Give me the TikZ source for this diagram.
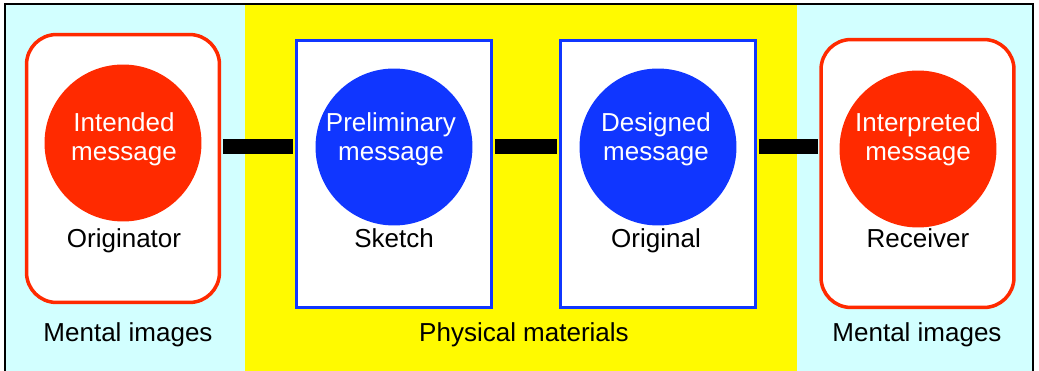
\documentclass[tikz,border=0pt]{standalone}
\usepackage{fontspec}
\setmainfont{Liberation Sans}
\usetikzlibrary{positioning}
\definecolor{mindred}{RGB}{255,42,0}
\definecolor{paperblue}{RGB}{16,54,255}
\definecolor{mindcyan}{RGB}{210,255,255}
\definecolor{paperyellow}{RGB}{255,250,0}

\begin{document}
\begin{tikzpicture}[x=0.02cm,y=-0.02cm,font=\fontsize{14.8}{16.4}\selectfont,
    mindbox/.style={draw=mindred,line width=2pt,fill=white,rounded corners=0.6cm,
      minimum width=3.86cm,minimum height=5.36cm},
    paperbox/.style={draw=paperblue,line width=2pt,fill=white,
      minimum width=3.9cm,minimum height=5.34cm},
    msg/.style={circle,minimum size=3.14cm,inner sep=0},
    msgtext/.style={align=center,text=white,inner sep=0},
    link/.style={line width=0.3cm,shorten <=1pt,shorten >=1pt}]
  \useasboundingbox (0,0) rectangle (1039,371);
  % the three zones behind everything
  \fill[mindcyan] (5,4) rectangle (245,376);
  \fill[paperyellow] (245,4) rectangle (797,376);
  \fill[mindcyan] (797,4) rectangle (1033,376);
  \draw[line width=1.1pt] (5,4) rectangle (1033,376);
  % frames
  \node (originator) [mindbox] at (123,168.5) {};
  \node (sketch) [paperbox] at (394,174) {};
  \node (original) [paperbox] at (658,174) {};
  \node (receiver) [mindbox] at (917.5,173.5) {};
  % messages
  \node (intended) [msg,fill=mindred] at (123,143) {};
  \node (prelim) [msg,fill=paperblue] at (394,147) {};
  \node (designed) [msg,fill=paperblue] at (658,147) {};
  \node (interpreted) [msg,fill=mindred] at (918,149) {};
  \node (intendedtext) [msgtext] at (124,139.3) {Intended\\message};
  \node (prelimtext) [msgtext] at (391,139.3) {Preliminary\\message};
  \node (designedtext) [msgtext] at (656,139.3) {Designed\\message};
  \node (interpretedtext) [msgtext] at (918,139.3) {Interpreted\\message};
  % names of the frames
  \node (originatorname) [anchor=base] at (124,248) {Originator};
  \node (sketchname) [anchor=base] at (394,248) {Sketch};
  \node (originalname) [anchor=base] at (656,248) {Original};
  \node (receivername) [anchor=base] at (918,248) {Receiver};
  % names of the zones
  \node (mentalleft) [anchor=base] at (128,342) {Mental images};
  \node (physical) [anchor=base] at (524,342) {Physical materials};
  \node (mentalright) [anchor=base] at (917,342) {Mental images};
  % links between the frames
  \draw[link] (originator.east |- prelim) -- (sketch.west |- prelim);
  \draw[link] (sketch.east |- prelim) -- (original.west |- prelim);
  \draw[link] (original.east |- designed) -- (receiver.west |- designed);
\end{tikzpicture}
\end{document}
